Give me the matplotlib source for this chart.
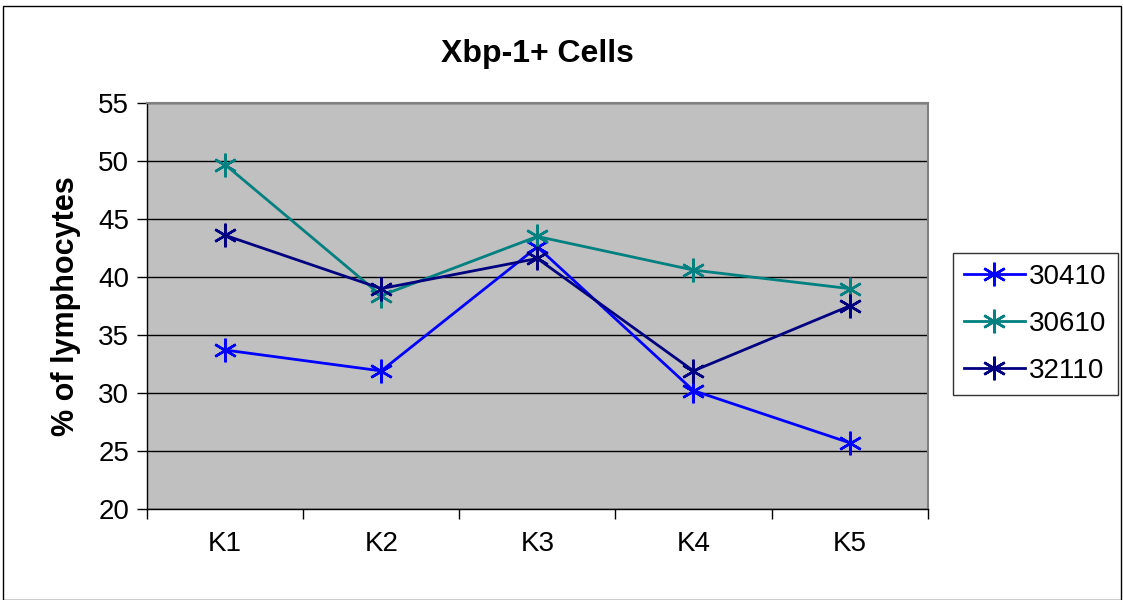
import matplotlib.pyplot as plt
from matplotlib.patches import Rectangle

plt.rcParams['font.family'] = ['Liberation Sans', 'DejaVu Sans']

categories = ['K1', 'K2', 'K3', 'K4', 'K5']
s30410 = [33.7, 31.9, 42.6, 30.2, 25.7]
s30610 = [49.7, 38.4, 43.5, 40.6, 39.0]
s32110 = [43.6, 39.0, 41.6, 31.9, 37.5]
series_names = ['30410', '30610', '32110']
colors = ['#0000FF', '#008080', '#000080']

fig = plt.figure(figsize=(11.23, 6), dpi=100)
fig.patches.append(Rectangle((0.003, 0.0), 0.995, 0.99, transform=fig.transFigure,
                             fill=False, edgecolor='black', linewidth=1))
ax = fig.add_axes([0.131, 0.152, 0.695, 0.676])
ax.set_facecolor('#C0C0C0')

x = list(range(len(categories)))
for vals, name, c in zip([s30410, s30610, s32110], series_names, colors):
    ax.plot(x, vals, color=c, linewidth=2, marker=(6, 2, 0), markersize=17,
            markeredgewidth=1.8, label=name)

ax.set_xlim(-0.5, 4.5)
ax.set_ylim(20, 55)
ax.set_yticks(range(20, 56, 5))
ax.yaxis.grid(True, color='black', linewidth=1)
ax.set_axisbelow(True)

ax.set_xticks([i - 0.5 for i in range(len(categories) + 1)])
ax.set_xticklabels([])
ax.set_xticks(x, minor=True)
ax.set_xticklabels(categories, minor=True)
ax.tick_params(axis='x', which='major', direction='out', length=7, width=1, colors='black')
ax.tick_params(axis='x', which='minor', length=0, pad=16, labelsize=20)
ax.tick_params(axis='y', direction='out', length=7, width=1, labelsize=20, pad=6)

for side in ['top', 'right']:
    ax.spines[side].set_color('#808080')
    ax.spines[side].set_linewidth(1.5)
for side in ['left', 'bottom']:
    ax.spines[side].set_color('black')
    ax.spines[side].set_linewidth(1)

ax.set_ylabel('% of lymphocytes', fontsize=22, fontweight='bold', labelpad=12)
ax.set_title('Xbp-1+ Cells', fontsize=23, fontweight='bold', pad=30)

leg = ax.legend(loc='center left', bbox_to_anchor=(1.032, 0.456), fontsize=20,
                frameon=True, fancybox=False, edgecolor='black', handlelength=2.2,
                labelspacing=0.75, borderpad=0.4, handletextpad=0.15, borderaxespad=0)
leg.get_frame().set_linewidth(1)

fig.savefig('out.png', dpi=100)
